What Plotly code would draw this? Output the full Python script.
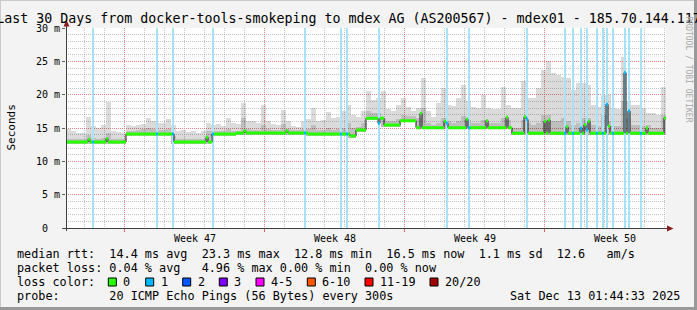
import numpy as np
import pandas as pd
import plotly.graph_objects as go

# ---------------- data ----------------
START = pd.Timestamp("2025-11-13 01:44:33")
END = pd.Timestamp("2025-12-13 01:44:33")

# median RTT level changes: day offset from START where level begins, value in ms
median_step_day = [0.0, 3.0, 5.35, 7.25, 8.5, 12.1, 14.15, 14.5, 15.0, 15.85, 16.65, 17.5, 22.25]
median_step_ms = [12.9, 14.1, 12.9, 14.1, 14.25, 14.1, 13.8, 14.7, 16.45, 15.45, 16.1, 15.05, 14.2]

# single-sample median spikes (day offset, ms)
spike_day = [1.15, 2.05, 7.05, 8.95, 11.05, 15.65, 17.75, 18.95, 19.05, 20.0, 21.0, 22.0,
             22.9, 23.0, 23.95, 24.1, 25.0, 25.75, 25.95, 26.05, 26.15, 27.0, 27.1, 27.95,
             28.15, 29.0, 29.95]
spike_ms = [13.3, 13.4, 13.6, 14.6, 14.6, 15.7, 17.2, 16.0, 15.7, 16.3, 16.1, 16.6,
            16.7, 16.3, 16.0, 16.2, 15.2, 15.0, 15.5, 14.7, 16.0, 18.55, 15.3, 23.3,
            17.55, 15.0, 16.5]

# packet loss events (day offset, lost pings of 20)
loss_day = [1.3, 4.55, 5.35, 7.35, 11.95, 13.7, 14.05, 15.65, 19.05, 20.15, 23.0, 24.9,
            25.3, 25.75, 26.05, 26.55, 26.85, 27.0, 27.3, 27.95, 28.15, 28.7]
loss_pings = [1, 1, 1, 1, 1, 1, 1, 1, 1, 1, 1, 1, 1, 1, 1, 1, 1, 1, 1, 1, 1, 1]

# smoke (ping spread), one value per quarter day: upper edge and upper edge of denser core, ms
smoke_top = [14.8, 14.6, 14.2, 14.3, 16.7, 15.3, 15.0, 15.5, 18.9, 14.6, 14.4, 14.3,
             15.4, 15.3, 15.5, 15.6, 16.5, 16.0, 15.8, 15.7, 16.3, 15.4, 14.5, 14.7,
             14.4, 14.6, 14.3, 14.5, 15.8, 15.5, 15.6, 15.3, 16.5, 15.8, 15.6, 18.7,
             16.0, 16.0, 15.8, 18.4, 16.0, 15.6, 15.5, 17.7, 16.0, 15.3, 15.2, 16.0,
             16.3, 18.0, 16.0, 16.2, 17.4, 16.5, 16.7, 17.5, 18.5, 17.0, 16.7, 17.5,
             20.5, 19.2, 19.5, 20.5, 17.8, 17.5, 18.5, 19.5, 18.2, 17.5, 18.0, 22.5,
             17.5, 16.7, 18.7, 21.0, 18.5, 18.3, 19.5, 21.5, 19.0, 18.2, 18.0, 20.0,
             18.0, 17.8, 17.8, 21.2, 18.5, 18.0, 18.0, 22.0, 19.5, 19.5, 21.0, 23.7,
             25.0, 23.2, 23.0, 22.7, 22.5, 20.7, 21.7, 21.7, 21.5, 18.5, 18.2, 20.0,
             20.0, 18.0, 17.8, 25.7, 19.0, 18.5, 18.5, 18.0, 17.2, 17.2, 17.0, 21.2]
smoke_mid = [13.4, 13.4, 13.3, 13.4, 14.0, 13.5, 13.4, 13.5, 14.2, 13.4, 13.3, 13.4,
             14.6, 14.6, 14.7, 14.8, 15.0, 14.8, 14.7, 14.7, 14.9, 13.8, 13.3, 13.4,
             13.3, 13.3, 13.3, 13.4, 14.5, 14.5, 14.5, 14.5, 14.8, 14.6, 14.6, 16.5,
             14.8, 14.7, 14.7, 15.5, 14.8, 14.7, 14.7, 15.6, 14.9, 14.7, 14.7, 14.8,
             14.8, 15.5, 14.7, 14.7, 15.0, 14.7, 14.8, 15.0, 15.8, 15.0, 15.2, 15.8,
             17.5, 17.3, 17.3, 16.5, 16.0, 16.0, 16.3, 17.0, 16.8, 16.8, 16.5, 18.0,
             15.8, 15.5, 15.8, 16.5, 16.0, 15.8, 16.0, 16.8, 16.2, 15.8, 15.7, 16.2,
             15.8, 15.7, 15.7, 16.5, 16.2, 15.0, 15.0, 16.2, 15.8, 15.5, 15.8, 17.0,
             17.0, 16.0, 16.0, 16.5, 16.0, 15.5, 15.8, 16.5, 16.5, 15.5, 15.3, 17.0,
             16.0, 15.3, 15.3, 19.0, 16.5, 15.5, 15.5, 15.3, 15.5, 15.0, 15.0, 17.0]

week_start = ["2025-11-16", "2025-11-23", "2025-11-30", "2025-12-07"]
week_mid = ["2025-11-19 12:00", "2025-11-26 12:00", "2025-12-03 12:00", "2025-12-10 12:00"]
week_label = ["Week 47", "Week 48", "Week 49", "Week 50"]

y_ticks = [0, 5, 10, 15, 20, 25, 30]
y_ticktext = ["0\u00a0\u00a0", "5 m", "10 m", "15 m", "20 m", "25 m", "30 m"]

loss_legend_label = ["0", "1", "2", "3", "4-5", "6-10", "11-19", "20/20"]
loss_legend_color = ["#26ff00", "#00b8ff", "#0059ff", "#7e00ff", "#ff00ff", "#ff5500", "#ff0000", "#a10000"]

title_text = "Last 30 Days from docker-tools-smokeping to mdex AG (AS200567) - mdex01 - 185.70.144.117"
legend_rows = [
    "median rtt:  14.4 ms avg  23.3 ms max  12.8 ms min  16.5 ms now  1.1 ms sd  12.6   am/s",
    "packet loss: 0.04 % avg   4.96 % max 0.00 % min  0.00 % now",
    "loss color:",
    "probe:       20 ICMP Echo Pings (56 Bytes) every 300s",
]
date_text = "Sat Dec 13 01:44:33 2025"

# ---------------- build series ----------------
STEP = 0.1     # days per sample
COL = 0.25     # days per smoke column
N = int(round(30 / STEP))


def level(d):
    k = np.searchsorted(median_step_day, d + 1e-9, side="right") - 1
    return median_step_ms[k]


med = np.array([level(i * STEP) for i in range(N)], dtype=float)
for d, v in zip(spike_day, spike_ms):
    med[int(d / STEP + 1e-6)] = v
loss = np.zeros(N, dtype=int)
for d, p in zip(loss_day, loss_pings):
    loss[int(d / STEP + 1e-6)] = p


def t(days):
    return START + pd.to_timedelta(np.asarray(days, dtype=float), unit="D")


step_centers = t((np.arange(N) + 0.5) * STEP)
step_edges = t(np.arange(N + 1) * STEP)
ncol = len(smoke_top)
col_centers = t((np.arange(ncol) + 0.5) * COL)
col_base = np.array([min(level(j * COL), level(j * COL + COL / 2), level(j * COL + COL - 1e-3))
                     for j in range(ncol)]) - 0.25

ms_day = 86400000.0
fig = go.Figure()

# smoke: light outer spread
fig.add_trace(go.Bar(x=col_centers, base=col_base, y=np.array(smoke_top) - col_base,
                     width=COL * ms_day, marker=dict(color="rgba(0,0,0,0.14)", line_width=0),
                     hoverinfo="skip", showlegend=False))
# smoke: denser inner part
fig.add_trace(go.Bar(x=col_centers, base=col_base, y=np.array(smoke_mid) - col_base,
                     width=COL * ms_day, marker=dict(color="rgba(0,0,0,0.13)", line_width=0),
                     hoverinfo="skip", showlegend=False))
# loss background bars
lmask = loss > 0
fig.add_trace(go.Bar(x=step_centers[lmask], base=np.zeros(lmask.sum()),
                     y=np.full(lmask.sum(), 30.0), width=STEP * ms_day,
                     marker=dict(color="#a6e3f9", line_width=0),
                     hoverinfo="skip", showlegend=False))
# thin dark median line (shows the vertical transitions)
fig.add_trace(go.Scatter(x=step_edges, y=np.append(med, med[-1]), mode="lines",
                         line=dict(color="#1a1a1a", width=1, shape="hv"),
                         hoverinfo="skip", showlegend=False))
# coloured median band by loss: horizontal pieces only
for lvl in sorted(set(loss.tolist())):
    xs, ys = [], []
    for i in range(N):
        if loss[i] == lvl:
            xs += [step_edges[i], step_edges[i + 1], None]
            ys += [med[i], med[i], None]
    fig.add_trace(go.Scatter(x=xs, y=ys, mode="lines", connectgaps=False,
                             line=dict(color=loss_legend_color[min(lvl, 1)], width=3),
                             hoverinfo="skip", showlegend=False))

# ---------------- layout ----------------
L, R, T, B = 66, 31, 28, 82
W, H = 697, 310
PW, PH = W - L - R, H - T - B


def px(x):
    return (x - L) / PW


def py(y):
    return (T + PH - y) / PH


MONO = "DejaVu Sans Mono"
fig.update_layout(
    width=W, height=H, autosize=False,
    margin=dict(l=L, r=R, t=T, b=B, pad=0),
    paper_bgcolor="#f3f3f3", plot_bgcolor="#ffffff",
    barmode="overlay", bargap=0,
    showlegend=False,
    font=dict(family=MONO, color="#000000"),
    title=dict(text=title_text, x=0.5, xref="container", xanchor="center",
               y=1 - 18.5 / H, yref="container", yanchor="middle",
               font=dict(family=MONO, size=13.3, color="#000000")),
    xaxis=dict(type="date", range=[START, END], tickmode="array", tickvals=week_start,
               showticklabels=False, ticks="outside", ticklen=3, tickcolor="#e06060",
               showgrid=True, gridcolor="rgba(240,110,110,0.75)", griddash="1px,1px", gridwidth=1,
               minor=dict(tickmode="linear", tick0="2025-11-14", dtick=86400000,
                          showgrid=True, gridcolor="rgba(150,150,150,0.55)",
                          griddash="1px,1px", gridwidth=1, ticks=""),
               showline=False, zeroline=False, fixedrange=True),
    yaxis=dict(range=[0, 30], tickmode="array", tickvals=y_ticks, ticktext=y_ticktext,
               ticks="outside", ticklen=3, tickcolor="#606060",
               tickfont=dict(family=MONO, size=10, color="#000000"),
               showgrid=True, gridcolor="rgba(240,110,110,0.75)", griddash="1px,1px", gridwidth=1,
               minor=dict(tickmode="linear", tick0=0, dtick=1, showgrid=True,
                          gridcolor="rgba(150,150,150,0.55)", griddash="1px,1px",
                          gridwidth=1, ticks=""),
               showline=False, zeroline=False, fixedrange=True),
)

annotations = []
# week labels, positioned by the date axis
for xm, lab in zip(week_mid, week_label):
    annotations.append(dict(x=xm, xref="x", y=py(238), yref="paper", text=lab,
                            showarrow=False, xanchor="center", yanchor="middle",
                            font=dict(family=MONO, size=10, color="#000"), borderpad=0))
# y axis title
annotations.append(dict(x=px(10.5), xref="paper", y=py(128), yref="paper", text="Seconds",
                        textangle=-90, showarrow=False, xanchor="center", yanchor="middle",
                        font=dict(family=MONO, size=11, color="#000"), borderpad=0))
# legend rows
row_y = [254.3, 268.3, 282.3, 296.3]
for txt, yy in zip(legend_rows, row_y):
    annotations.append(dict(x=px(15.5), xref="paper", y=py(yy), yref="paper",
                            text=txt.replace(" ", "\u00a0"), showarrow=False,
                            xanchor="left", yanchor="middle", borderpad=0,
                            font=dict(family=MONO, size=11.8, color="#000")))
annotations.append(dict(x=px(680.5), xref="paper", y=py(296.3), yref="paper", text=date_text,
                        showarrow=False, xanchor="right", yanchor="middle", borderpad=0,
                        font=dict(family=MONO, size=11.8, color="#000")))
# watermark
annotations.append(dict(x=px(688.5), xref="paper", y=py(69), yref="paper",
                        text="RRDTOOL / TOBI OETIKER", textangle=90, showarrow=False,
                        xanchor="center", yanchor="middle", borderpad=0,
                        font=dict(family=MONO, size=8, color="#a8a8a8")))

shapes = []
# loss colour legend boxes
box_x = [108.3, 145.7, 182.7, 219.3, 256.0, 307.3, 365.0, 430.0]
for bx, col, lab in zip(box_x, loss_legend_color, loss_legend_label):
    shapes.append(dict(type="rect", xref="paper", yref="paper",
                       x0=px(bx), x1=px(bx + 8), y0=py(286), y1=py(278),
                       fillcolor=col, line=dict(color="#000", width=1)))
    annotations.append(dict(x=px(bx + 13.8), xref="paper", y=py(282.3), yref="paper",
                            text=lab, showarrow=False, xanchor="left", yanchor="middle",
                            borderpad=0, font=dict(family=MONO, size=11.8, color="#000")))

# axes with arrows
shapes.append(dict(type="line", xref="paper", yref="paper", x0=px(66.5), x1=px(66.5),
                   y0=py(231), y1=py(24), line=dict(color="#404040", width=1)))
shapes.append(dict(type="line", xref="paper", yref="paper", x0=px(63), x1=px(668),
                   y0=py(228.5), y1=py(228.5), line=dict(color="#404040", width=1)))
shapes.append(dict(type="path", xref="paper", yref="paper",
                   path=f"M {px(63.5)} {py(26.5)} L {px(69.5)} {py(26.5)} L {px(66.5)} {py(20)} Z",
                   fillcolor="#8b1c1c", line=dict(width=0)))
shapes.append(dict(type="path", xref="paper", yref="paper",
                   path=f"M {px(667)} {py(225.5)} L {px(667)} {py(231.5)} L {px(673.5)} {py(228.5)} Z",
                   fillcolor="#8b1c1c", line=dict(width=0)))
# 3D frame
shapes.append(dict(type="line", xref="paper", yref="paper", x0=px(0), x1=px(697),
                   y0=py(0.5), y1=py(0.5), line=dict(color="#cbcbcb", width=1)))
shapes.append(dict(type="line", xref="paper", yref="paper", x0=px(0.5), x1=px(0.5),
                   y0=py(0), y1=py(310), line=dict(color="#cbcbcb", width=1)))
shapes.append(dict(type="line", xref="paper", yref="paper", x0=px(0), x1=px(697),
                   y0=py(308.5), y1=py(308.5), line=dict(color="#999999", width=3)))
shapes.append(dict(type="line", xref="paper", yref="paper", x0=px(695.5), x1=px(695.5),
                   y0=py(0), y1=py(310), line=dict(color="#999999", width=3)))

fig.update_layout(annotations=annotations, shapes=shapes)
fig.write_html("out.html", config={"displayModeBar": False, "staticPlot": True})
